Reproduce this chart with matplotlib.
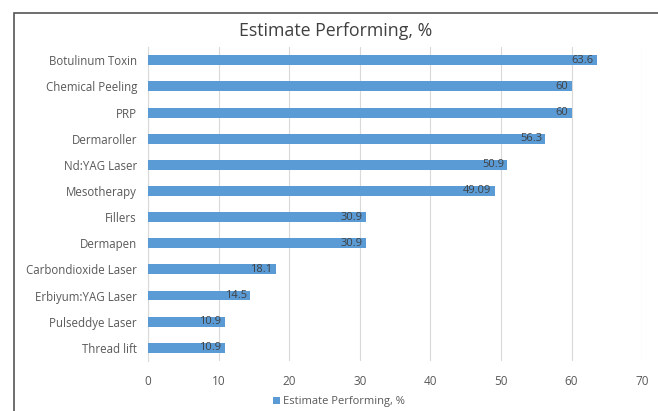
import matplotlib
matplotlib.use('Agg')
import matplotlib.pyplot as plt
from matplotlib.patches import Rectangle

categories = ['Botulinum Toxin', 'Chemical Peeling', 'PRP', 'Dermaroller', 'Nd:YAG Laser',
              'Mesotherapy', 'Fillers', 'Dermapen', 'Carbondioxide Laser',
              'Erbiyum:YAG Laser', 'Pulseddye Laser', 'Thread lift']
values = [63.6, 60, 60, 56.3, 50.9, 49.09, 30.9, 30.9, 18.1, 14.5, 10.9, 10.9]
value_labels = ['63.6', '60', '60', '56.3', '50.9', '49.09', '30.9', '30.9', '18.1', '14.5', '10.9', '10.9']
xticks = [0, 10, 20, 30, 40, 50, 60, 70]

plt.rcParams['font.family'] = ['Open Sans', 'DejaVu Sans']
bar_color = '#5B9BD5'
text_color = '#595959'

fig = plt.figure(figsize=(6.58, 4.11), dpi=100)
ax = fig.add_axes([0.225, 0.122, 0.751, 0.763])

ypos = list(range(len(categories)))
ax.barh(ypos, values, height=0.38, color=bar_color, zorder=3)
for y, v, lab in zip(ypos, values, value_labels):
    ax.text(v - 0.5, y, lab, ha='right', va='center', fontsize=8, color='#404040', zorder=4)

ax.set_yticks(ypos)
ax.set_yticklabels(categories, fontsize=8.3, color=text_color)
ax.set_ylim(len(categories) - 0.5, -0.5)
ax.set_xlim(0, 70)
ax.set_xticks(xticks)
ax.set_xticklabels([str(t) for t in xticks], fontsize=8.5, color=text_color)
ax.tick_params(axis='y', length=0, pad=8)
ax.tick_params(axis='x', length=0, pad=10)
ax.grid(axis='x', color='#D9D9D9', linewidth=0.8, zorder=0)
for s in ['top', 'right', 'bottom']:
    ax.spines[s].set_visible(False)
ax.spines['left'].set_color('#D9D9D9')

fig.text(0.510, 0.925, 'Estimate Performing, %', ha='center', va='center', fontsize=12.8, color='#404040')

leg = ax.legend(['Estimate Performing, %'], loc='upper center', bbox_to_anchor=(0.387, -0.08),
                frameon=False, fontsize=8, handlelength=0.6, handleheight=0.6, handletextpad=0.3)
for t in leg.get_texts():
    t.set_color(text_color)

# chart frame (left and top edges visible)
fig.patches.append(Rectangle((14 / 658, -0.1), 1.1, 1 - 13 / 411 + 0.1, transform=fig.transFigure,
                             fill=False, edgecolor='#555555', linewidth=1.2))

fig.savefig('out.png', dpi=100)
